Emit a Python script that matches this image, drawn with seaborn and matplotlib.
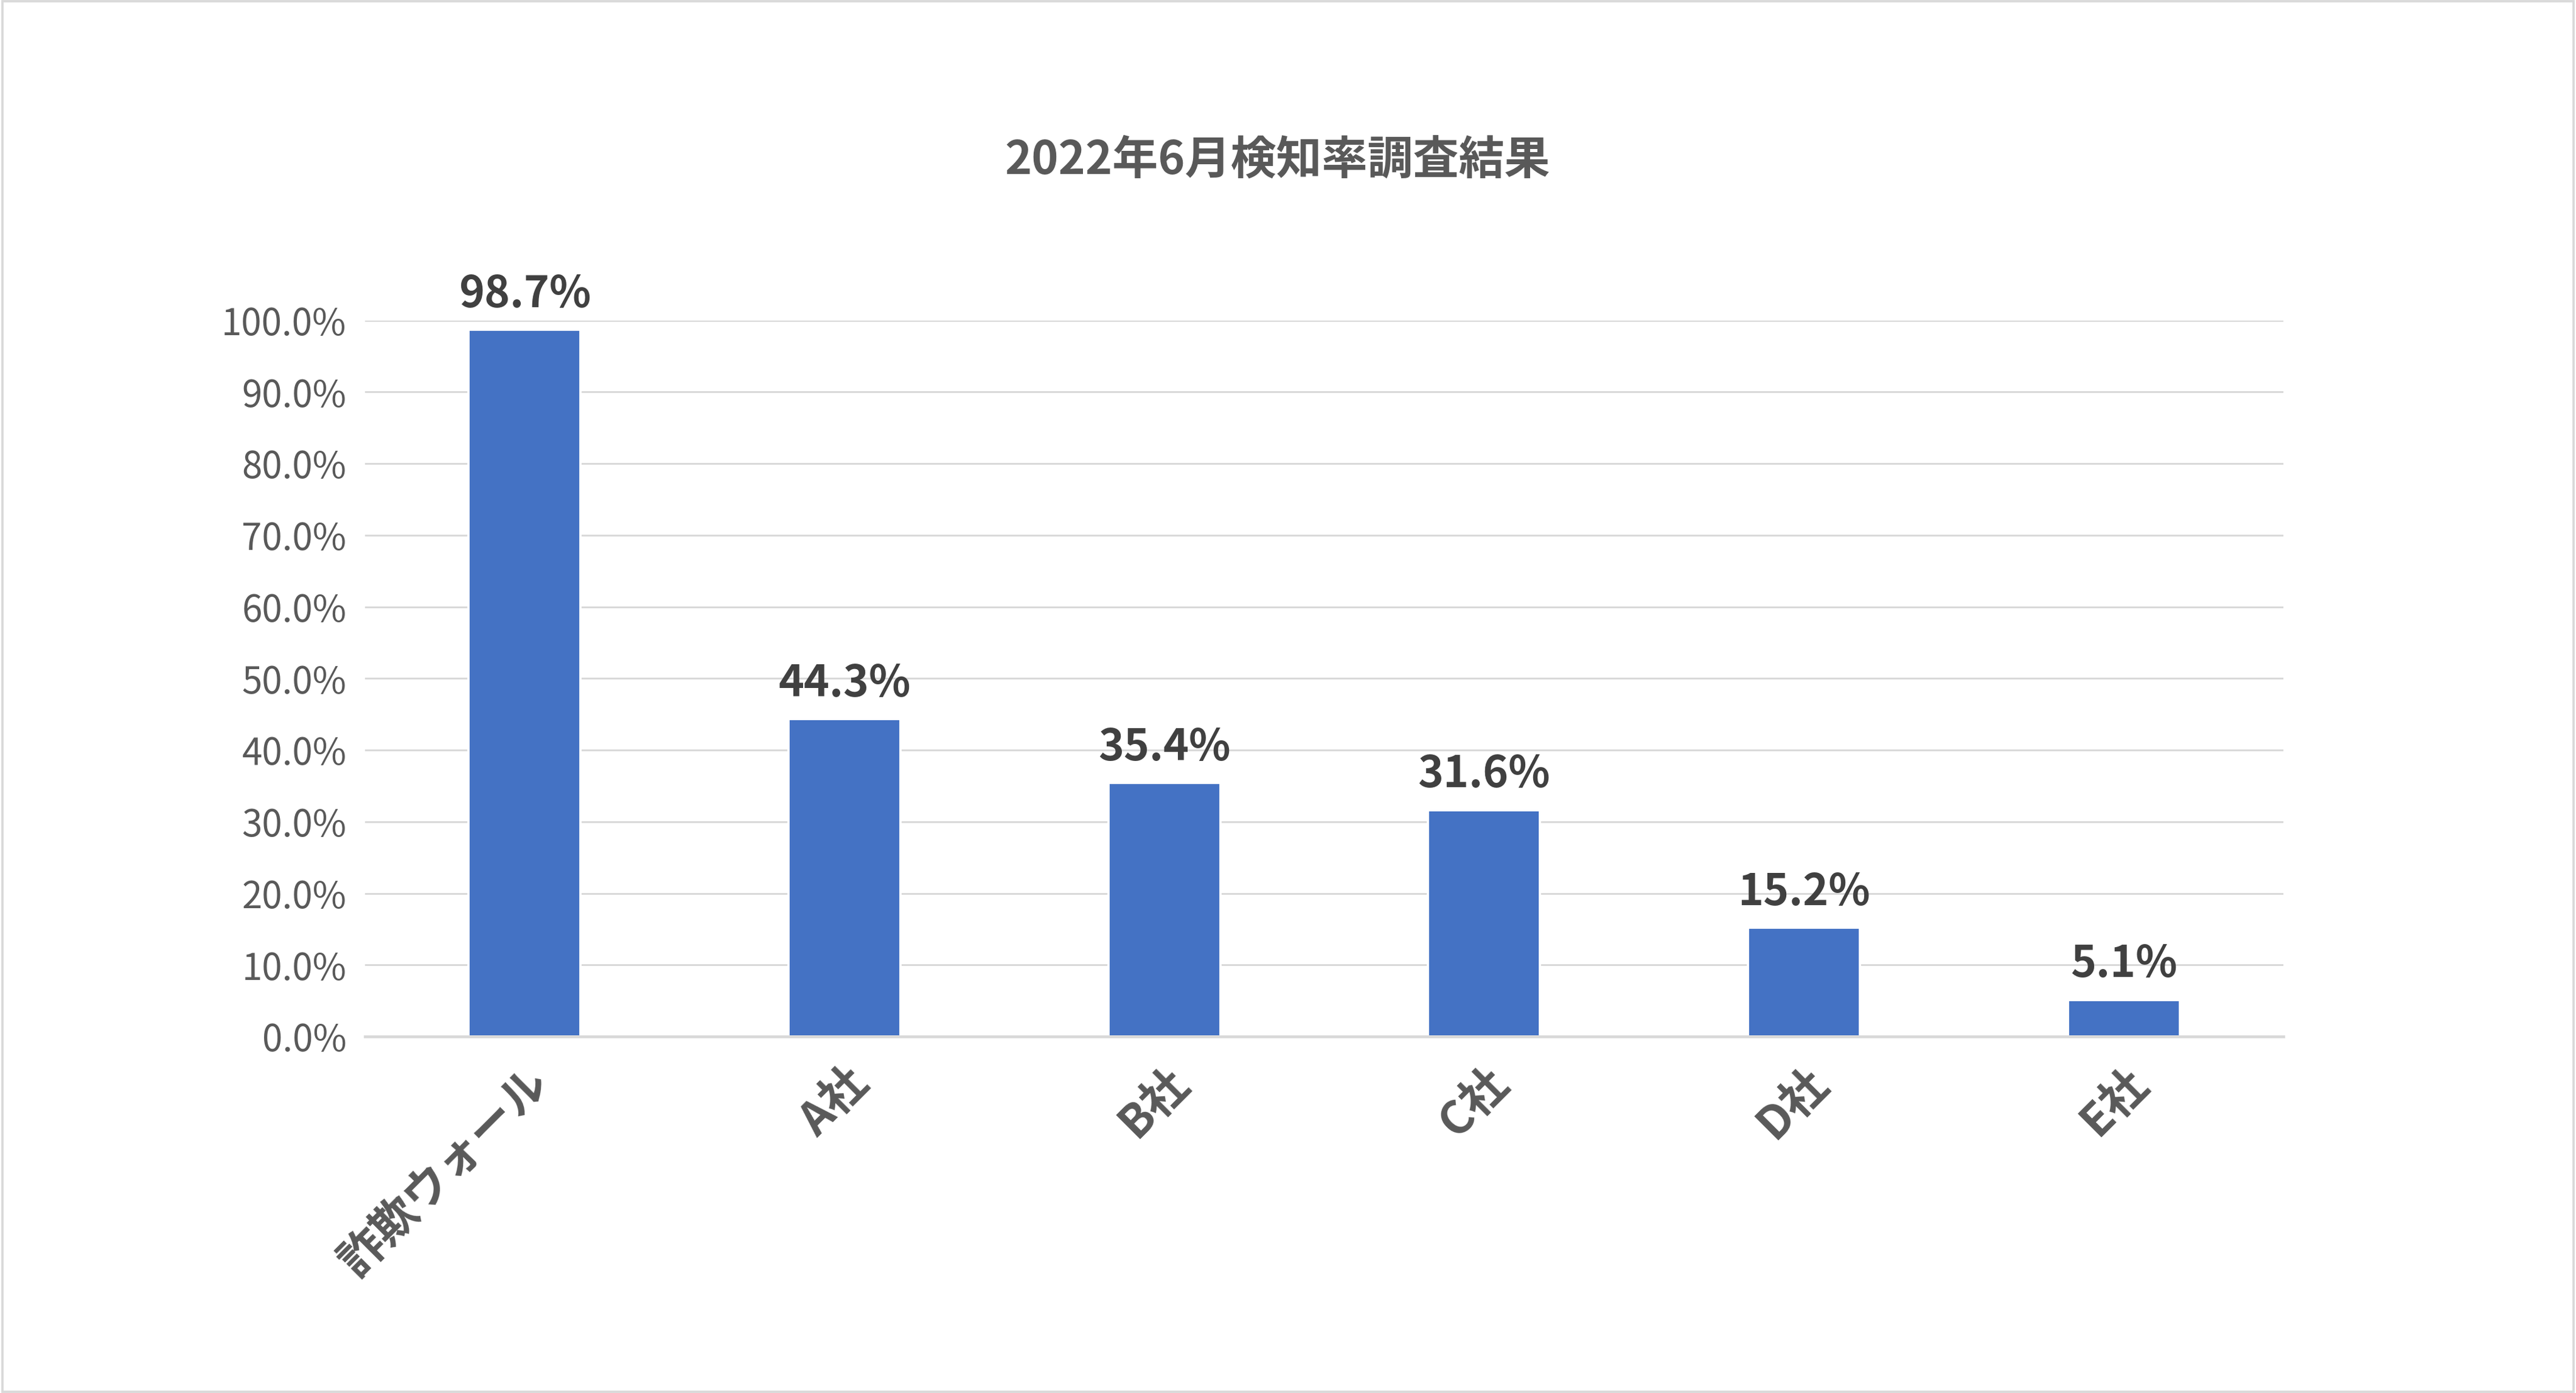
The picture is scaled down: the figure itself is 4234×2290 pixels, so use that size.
import matplotlib
matplotlib.use("Agg")
import matplotlib.pyplot as plt
import seaborn as sns
from matplotlib.ticker import PercentFormatter

# data
categories = ["詐欺ウォール", "A社", "B社", "C社", "D社", "E社"]
rates = [0.987, 0.443, 0.354, 0.316, 0.152, 0.051]
label_texts = ["98.7%", "44.3%", "35.4%", "31.6%", "15.2%", "5.1%"]

sns.set_theme(style="white")
plt.rcParams['font.family'] = ['Noto Sans CJK JP', 'DejaVu Sans']

text_color = "#595959"
fig = plt.figure(figsize=(4234 / 270, 2290 / 270), dpi=270)
ax = fig.add_axes([0.1416, 0.2559, 0.8865 - 0.1416, 0.770 - 0.2559])

sns.barplot(x=categories, y=rates, color="#4472C4", width=0.35, saturation=1, ax=ax)

ax.set_ylim(0, 1.0)
ax.set_yticks([i / 10 for i in range(11)])
ax.yaxis.set_major_formatter(PercentFormatter(1.0, decimals=1))
ax.grid(axis="y", color="#D9D9D9", linewidth=0.8)
ax.set_axisbelow(True)
for s in ["top", "right", "left"]:
    ax.spines[s].set_visible(False)
ax.spines["bottom"].set_color("#D9D9D9")
ax.tick_params(axis="y", labelsize=16, labelcolor=text_color, length=0, pad=8)
ax.tick_params(axis="x", length=0, pad=10)
ax.set_xticks(range(len(categories)))
ax.set_xticklabels(categories, rotation=45, ha="right", rotation_mode="anchor",
                   fontsize=20, fontweight="bold", color=text_color)

for i, (v, t) in enumerate(zip(rates, label_texts)):
    ax.annotate(t, (i, v), xytext=(0, 6), textcoords="offset points", ha="center",
                va="bottom", fontsize=19, fontweight="bold", color="#404040",
                annotation_clip=False)

fig.text(0.496, 0.885, "2022年6月検知率調査結果", ha="center", va="center",
         fontsize=20, fontweight="bold", color=text_color)

fig.patches.append(plt.Rectangle((0.001, 0.001), 0.998, 0.998, transform=fig.transFigure,
                                 fill=False, edgecolor="#D9D9D9", linewidth=1))

fig.savefig("out.png", dpi=270)
